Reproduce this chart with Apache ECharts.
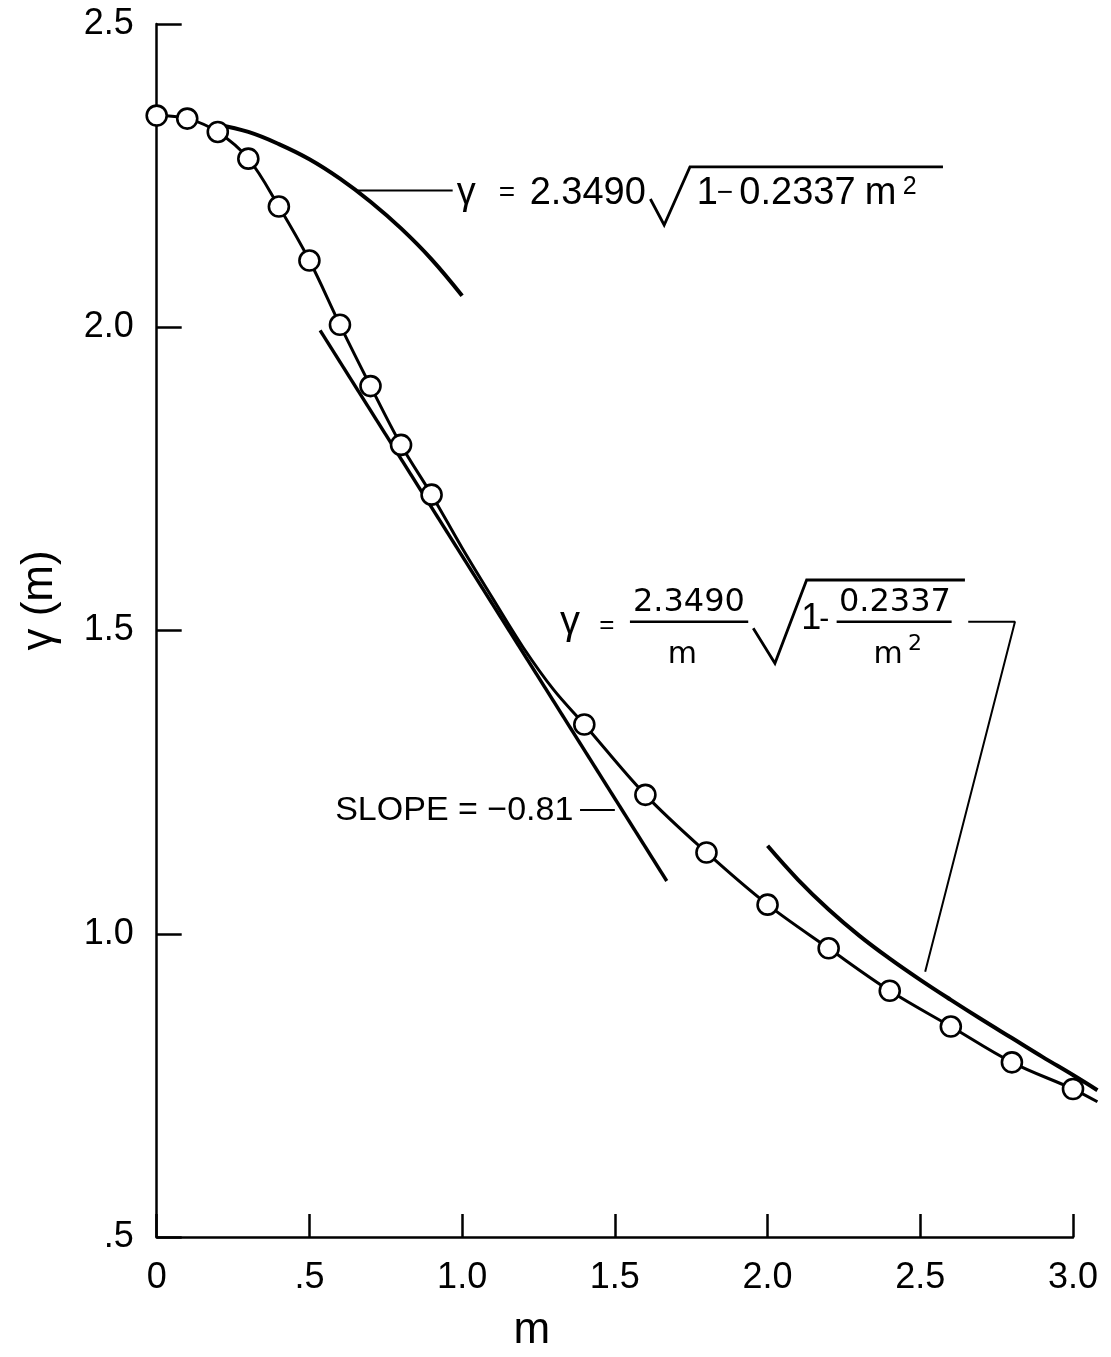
<!DOCTYPE html>
<html><head><meta charset="utf-8">
<script src="https://cdn.jsdelivr.net/npm/echarts@6/dist/echarts.min.js"></script>
<style>html,body{margin:0;padding:0;background:#fff}#chart{width:1111px;height:1357px}</style>
</head><body><div id="chart"></div>
<script>
// ---------- DATA ----------
// measured points (open circles)
const pointM     = [0, 0.1, 0.2, 0.3, 0.4, 0.5, 0.6, 0.7, 0.8, 0.9, 1.4, 1.6, 1.8, 2.0, 2.2, 2.4, 2.6, 2.8, 3.0];
const pointGamma = [2.349, 2.344, 2.322, 2.278, 2.199, 2.110, 2.004, 1.903, 1.806, 1.724, 1.345, 1.229, 1.134, 1.048, 0.976, 0.906, 0.847, 0.788, 0.744];
// smooth curve drawn through the points
const curveM     = [0, 0.1, 0.2, 0.3, 0.4, 0.5, 0.6, 0.7, 0.8, 0.9, 1.0, 1.1, 1.2, 1.3, 1.4, 1.6, 1.8, 2.0, 2.2, 2.4, 2.6, 2.8, 3.0, 3.08];
const curveGamma = [2.349, 2.344, 2.322, 2.278, 2.199, 2.110, 2.004, 1.903, 1.806, 1.724, 1.636, 1.553, 1.472, 1.402, 1.345, 1.229, 1.134, 1.048, 0.976, 0.906, 0.847, 0.788, 0.744, 0.723];
// small-m approximation  γ = 2.3490 √(1 − 0.2337 m²)
const smallM     = [0.2, 0.3, 0.4, 0.5, 0.6, 0.7, 0.8, 0.9, 1.0];
const smallGamma = [2.334, 2.322, 2.302, 2.277, 2.245, 2.207, 2.163, 2.112, 2.052];
// large-m approximation  γ = (2.3490/m) √(1 − 0.2337/m²)
const largeM     = [2.0, 2.1, 2.2, 2.3, 2.4, 2.5, 2.6, 2.7, 2.8, 2.9, 3.0, 3.08];
const largeGamma = [1.145, 1.089, 1.040, 0.997, 0.959, 0.924, 0.891, 0.859, 0.828, 0.797, 0.767, 0.742];
// tangent line, slope = −0.81
const slopeM     = [0.535, 1.670];
const slopeGamma = [1.995, 1.087];
// tick labels
const xTickLabels = ['0', '.5', '1.0', '1.5', '2.0', '2.5', '3.0'];
const yTickLabels = ['.5', '1.0', '1.5', '2.0', '2.5'];
// annotation texts
const upperFormula = { lhs: 'γ', eq: '=', coef: '2.3490', one: '1', minus: '−', c: '0.2337', m: 'm', p: '2' };
const lowerFormula = { lhs: 'γ', eq: '=', num: '2.3490', den: 'm', one: '1', minus: '-', c: '0.2337', m: 'm', p: '2' };
const slopeText = 'SLOPE = −0.81';

// ---------- LAYOUT ----------
// annotation leader lines / anchors in data space
const upperLeader = [[0.658, 2.2253], [0.969, 2.2253]];
const lowerLeader = [[2.657, 1.5145], [2.810, 1.5145], [2.516, 0.9374]];
const slopeLeader = [[1.386, 1.204], [1.500, 1.204]];

const GL = 156.7, GT = 24, GB = 120, GR = 38;          // visible frame 0..3.0
const PX_PER_M = (1111 - GL - GR) / 3;                  // same scale for the drawing grid
const DRAW_MAX = 3.1;                                    // curves run a little past 3.0
const GR2 = 1111 - GL - PX_PER_M * DRAW_MAX;

const zip = (a, b) => a.map((v, i) => [v, b[i]]);
const FONT = '"Liberation Sans", Arial, sans-serif';
const FONT2 = '"DejaVu Sans", sans-serif';
const BLACK = '#000';

const chart = echarts.init(document.getElementById('chart'), null, { renderer: 'canvas' });

const lineSeries = (data, width, extra) => Object.assign({
  type: 'line', data, symbol: 'none', showSymbol: false, clip: false, silent: true,
  xAxisIndex: 1, yAxisIndex: 1,
  animation: false, lineStyle: { color: BLACK, width }, emphasis: { disabled: true }, z: 2
}, extra || {});

const option = {
  animation: false,
  backgroundColor: '#fff',
  grid: [
    { left: GL, right: GR, top: GT, bottom: GB, containLabel: false, outerBoundsMode: 'none' },
    { left: GL, right: GR2, top: GT, bottom: GB, containLabel: false, outerBoundsMode: 'none' }
  ],
  xAxis: [{
    type: 'value', gridIndex: 0, min: 0, max: 3, interval: 0.5,
    name: 'm', nameLocation: 'middle', nameGap: 72,
    nameTextStyle: { color: BLACK, fontSize: 44, fontFamily: FONT, padding: [0, 166, 0, 0] },
    axisLine: { show: true, onZero: false, lineStyle: { color: BLACK, width: 2.5 } },
    axisTick: { show: true, inside: true, length: 23, lineStyle: { color: BLACK, width: 2.5 } },
    axisLabel: { color: BLACK, fontSize: 36, fontFamily: FONT, margin: 23,
      formatter: (v, i) => xTickLabels[i] },
    splitLine: { show: false }
  }, {
    type: 'value', gridIndex: 1, min: 0, max: DRAW_MAX, show: false, splitLine: { show: false }
  }],
  yAxis: [{
    type: 'value', gridIndex: 0, min: 0.5, max: 2.5, interval: 0.5,
    name: 'γ (m)', nameLocation: 'middle', nameGap: 95,
    nameTextStyle: { color: BLACK, fontSize: 44, fontFamily: FONT, padding: [0, 0, 0, 60] },
    axisLine: { show: true, onZero: false, lineStyle: { color: BLACK, width: 2.5 } },
    axisTick: { show: true, inside: true, length: 25, lineStyle: { color: BLACK, width: 2.5 } },
    axisLabel: { color: BLACK, fontSize: 36, fontFamily: FONT, margin: 23,
      formatter: (v, i) => yTickLabels[i] },
    splitLine: { show: false }
  }, {
    type: 'value', gridIndex: 1, min: 0.5, max: 2.5, show: false, splitLine: { show: false }
  }],
  series: [
    lineSeries(zip(curveM, curveGamma), 3, { smooth: 0.35, name: 'curve' }),
    lineSeries(zip(smallM, smallGamma), 4, { smooth: 0.4, name: 'small m' }),
    lineSeries(zip(largeM, largeGamma), 4, { smooth: 0.4, name: 'large m' }),
    lineSeries(zip(slopeM, slopeGamma), 3.4, { name: 'slope' }),
    lineSeries(upperLeader, 2, { name: 'leader1' }),
    lineSeries(lowerLeader, 2, { name: 'leader2' }),
    lineSeries(slopeLeader, 2, { name: 'leader3' }),
    {
      type: 'scatter', name: 'points', data: zip(pointM, pointGamma), symbol: 'circle', symbolSize: 20,
      xAxisIndex: 1, yAxisIndex: 1,
      silent: true, animation: false, clip: false, z: 5,
      itemStyle: { color: '#fff', borderColor: BLACK, borderWidth: 2.6, opacity: 1 },
      emphasis: { disabled: true }
    }
  ]
};
chart.setOption(option);

// ---------- annotation text (positioned from data-space anchors) ----------
const txt = (x, y, text, size, family, align) => ({
  type: 'text', x, y, silent: true, z: 10,
  style: { text, fontSize: size, fontFamily: family, fill: BLACK, align: align || 'left', verticalAlign: 'middle' }
});
const poly = (pts, w) => ({
  type: 'polyline', silent: true, z: 10, shape: { points: pts },
  style: { stroke: BLACK, lineWidth: w, fill: null, lineJoin: 'miter' }
});
const seg = (x1, y1, x2, y2, w) => ({
  type: 'line', silent: true, z: 10, shape: { x1, y1, x2, y2 }, style: { stroke: BLACK, lineWidth: w }
});

const toPx = (p) => chart.convertToPixel({ gridIndex: 1 }, p);
const P = toPx(upperLeader[1]);
const Q = toPx(lowerLeader[0]);
const S = toPx(slopeLeader[0]);
const off = (o, dx, dy) => [o[0] + dx, o[1] + dy];

const g = [];
// upper formula
let a = P;
g.push(txt(a[0] + 4, a[1] + 3, upperFormula.lhs, 38, FONT));
g.push(txt(a[0] + 46, a[1] + 3, upperFormula.eq, 28, FONT));
g.push(txt(a[0] + 77, a[1] + 3, upperFormula.coef, 38, FONT));
g.push(poly([off(a, 197.7, 8.4), off(a, 211.5, 34.4), off(a, 237.3, -23.7), off(a, 490.3, -23.7)], 2.8));
g.push(txt(a[0] + 244, a[1] + 3, upperFormula.one, 38, FONT));
g.push(txt(a[0] + 264, a[1] + 3, upperFormula.minus, 28, FONT));
g.push(txt(a[0] + 286.7, a[1] + 3, upperFormula.c, 38, FONT));
g.push(txt(a[0] + 412, a[1] + 3, upperFormula.m, 38, FONT));
g.push(txt(a[0] + 450, a[1] - 3, upperFormula.p, 25, FONT));
// lower formula
a = Q;
g.push(txt(a[0] - 408.3, a[1] + 1, lowerFormula.lhs, 40, FONT));
g.push(txt(a[0] - 369, a[1] + 4, lowerFormula.eq, 26, FONT));
g.push(seg(a[0] - 338.3, a[1], a[0] - 220, a[1], 2.5));
g.push(txt(a[0] - 279.3, a[1] - 18.7, lowerFormula.num, 32, FONT2, 'center'));
g.push(txt(a[0] - 285.8, a[1] + 33.3, lowerFormula.den, 30, FONT2, 'center'));
g.push(poly([off(a, -215, 6.6), off(a, -193.3, 41.6), off(a, -161.6, -41.7), off(a, -3.3, -41.7)], 2.8));
g.push(txt(a[0] - 157, a[1] - 3, lowerFormula.one, 36, FONT, 'center'));
g.push(txt(a[0] - 144, a[1] - 2, lowerFormula.minus, 30, FONT, 'center'));
g.push(seg(a[0] - 131.6, a[1], a[0] - 16.6, a[1], 2.5));
g.push(txt(a[0] - 73.3, a[1] - 19.2, lowerFormula.c, 32, FONT2, 'center'));
g.push(txt(a[0] - 80, a[1] + 33.3, lowerFormula.m, 30, FONT2, 'center'));
g.push(txt(a[0] - 53.3, a[1] + 23, lowerFormula.p, 22, FONT2, 'center'));
// slope label
g.push(txt(S[0] - 6.7, S[1] + 0.7, slopeText, 34, FONT, 'right'));

chart.setOption({ graphic: { elements: g } });
</script></body></html>
